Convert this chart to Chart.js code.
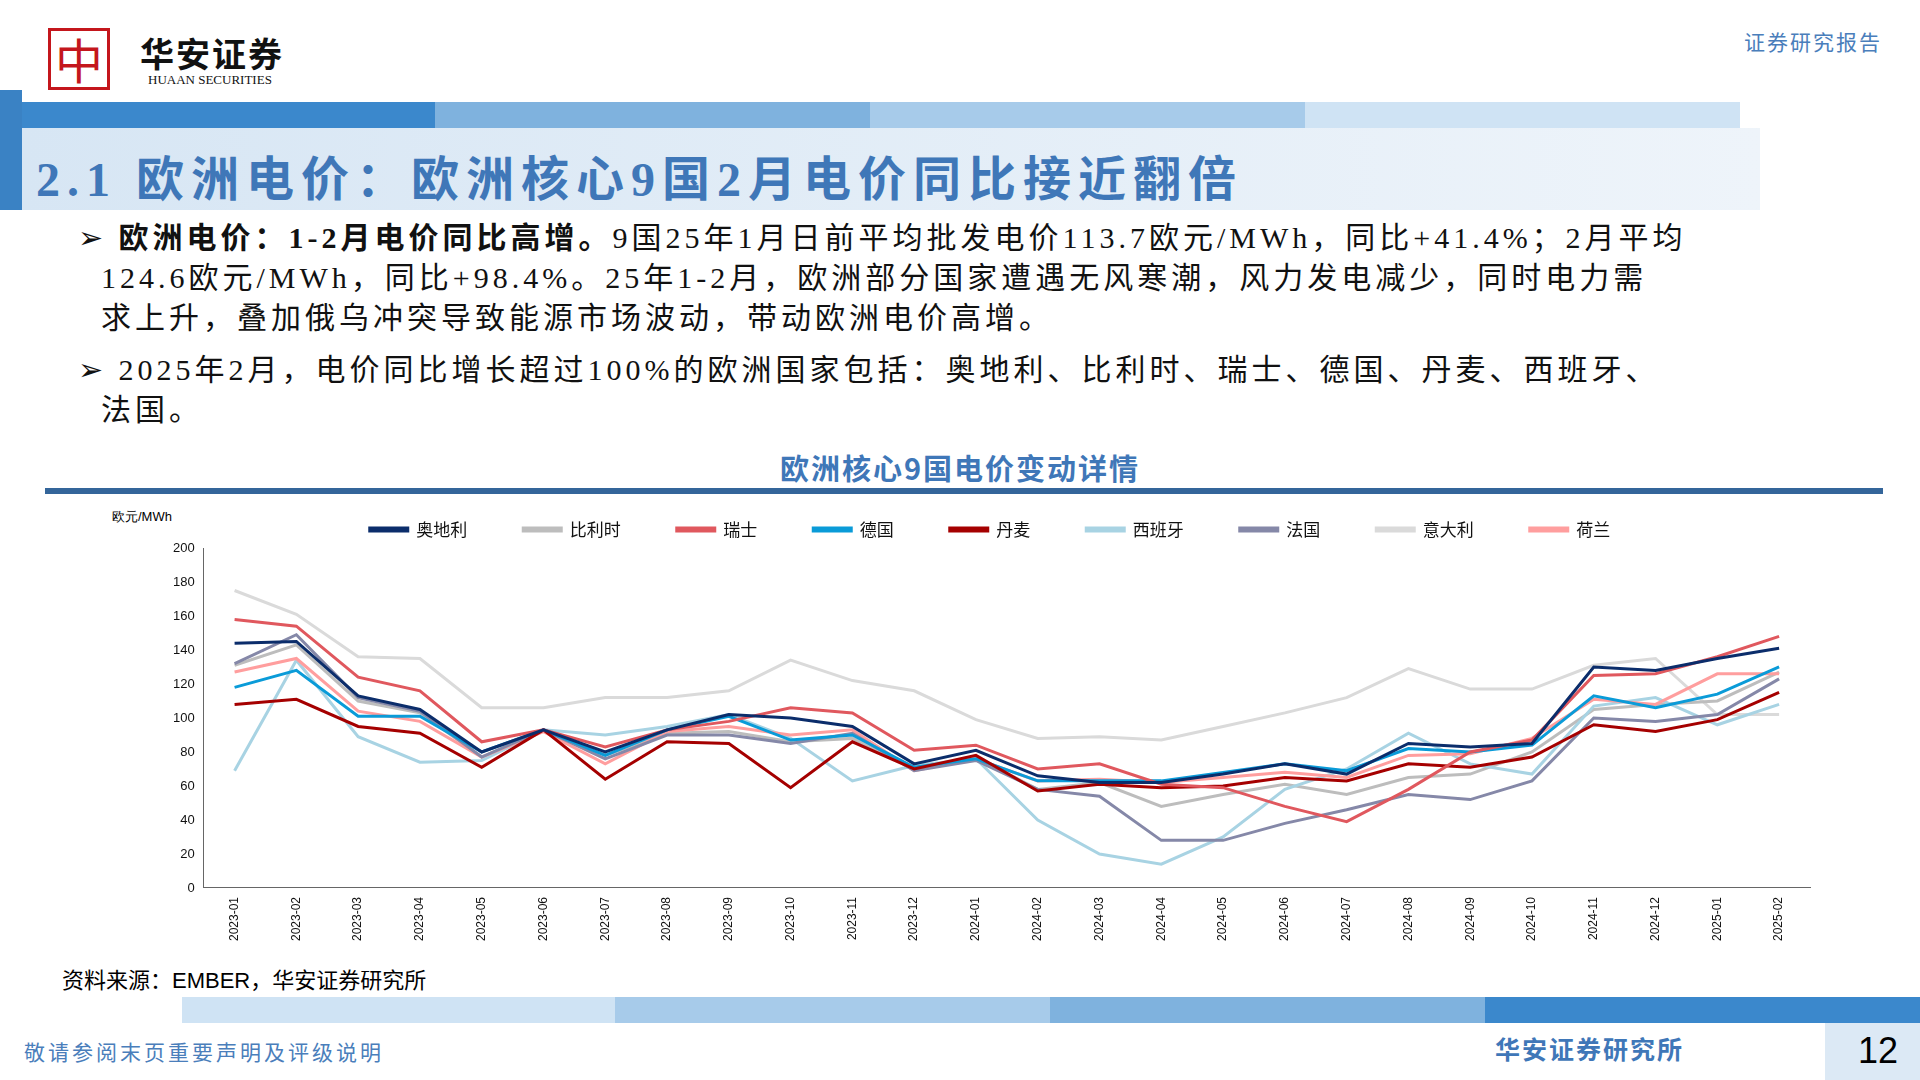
<!DOCTYPE html>
<html><head><meta charset="utf-8">
<script src="https://cdn.jsdelivr.net/npm/chart.js@4.4.1/dist/chart.umd.min.js"></script>
<style>
body{margin:0;width:1920px;height:1080px;position:relative;background:#fff;font-family:"Liberation Serif","Noto Sans CJK SC",serif;overflow:hidden}
.abs{position:absolute}
.band{position:absolute;height:26px;top:102px}
p.b{position:absolute;left:78px;margin:0;font-size:30px;line-height:40px;color:#111;width:1760px;letter-spacing:4px;white-space:nowrap}
</style></head><body>
<div class="abs" style="left:48px;top:28px;width:62px;height:62px;border:3px solid #C4161C;box-sizing:border-box;color:#C4161C;font-size:48px;line-height:54px;text-align:center;font-family:'Noto Sans CJK SC'">中</div>
<div class="abs" style="left:140px;top:28px;font-size:34px;font-family:'Noto Sans CJK SC';font-weight:bold;color:#111;letter-spacing:2px">华安证券</div>
<div class="abs" style="left:148px;top:72px;font-size:13px;color:#111">HUAAN SECURITIES</div>
<div class="abs" style="right:38px;top:26px;font-size:21px;color:#4A7EBB;font-family:'Noto Sans CJK SC';letter-spacing:2px">证券研究报告</div>
<div class="abs" style="left:0;top:90px;width:22px;height:120px;background:#3A82C4"></div>
<div class="band" style="left:22px;width:413px;background:#3B88CC"></div>
<div class="band" style="left:435px;width:435px;background:#7FB2DE"></div>
<div class="band" style="left:870px;width:435px;background:#A7CBEA"></div>
<div class="band" style="left:1305px;width:435px;background:#CFE3F4"></div>
<div class="abs" style="left:22px;top:128px;width:1738px;height:82px;background:linear-gradient(90deg,#D7E6F4,#EEF4FA)"></div>
<div class="abs" style="left:36px;top:140px;font-size:48px;color:#3F77B8;font-weight:bold;letter-spacing:7px;font-family:'Liberation Serif','Noto Sans CJK SC'">2.1 欧洲电价：欧洲核心9国2月电价同比接近翻倍</div>
<p class="b" style="top:218px">➢ <b>欧洲电价：1-2月电价同比高增。</b>9国25年1月日前平均批发电价113.7欧元/MWh，同比+41.4%；2月平均<br>&nbsp;&nbsp;124.6欧元/MWh，同比+98.4%。25年1-2月，欧洲部分国家遭遇无风寒潮，风力发电减少，同时电力需<br>&nbsp;&nbsp;求上升，叠加俄乌冲突导致能源市场波动，带动欧洲电价高增。</p>
<p class="b" style="top:350px">➢ 2025年2月，电价同比增长超过100%的欧洲国家包括：奥地利、比利时、瑞士、德国、丹麦、西班牙、<br>&nbsp;&nbsp;法国。</p>
<div class="abs" style="left:0;width:1920px;top:446px;text-align:center;font-size:29px;color:#3F77B8;font-weight:bold;letter-spacing:2px;font-family:'Noto Sans CJK SC'">欧洲核心9国电价变动详情</div>
<div class="abs" style="left:45px;top:488px;width:1838px;height:6px;background:#34659A"></div>
<div class="abs" style="left:112px;top:508px;font-size:13px;font-family:'Liberation Sans'">欧元/MWh</div>
<div class="abs" style="left:90px;top:465px;width:1740px;height:479px"><canvas id="c"></canvas></div>
<div class="abs" style="left:62px;top:962px;font-size:22px;font-family:'Liberation Sans','Noto Sans CJK SC'">资料来源：EMBER，华安证券研究所</div>
<div class="band" style="top:997px;left:182px;width:433px;background:#CFE3F4"></div>
<div class="band" style="top:997px;left:615px;width:435px;background:#A7CBEA"></div>
<div class="band" style="top:997px;left:1050px;width:435px;background:#7FB2DE"></div>
<div class="band" style="top:997px;left:1485px;width:435px;background:#3B88CC"></div>
<div class="abs" style="left:1825px;top:1023px;width:95px;height:57px;background:#DCE9F5"></div>
<div class="abs" style="left:1858px;top:1030px;font-size:36px;font-family:'Liberation Sans'">12</div>
<div class="abs" style="left:24px;top:1036px;font-size:21px;color:#4A7EBB;letter-spacing:3px;font-family:'Noto Sans CJK SC'">敬请参阅末页重要声明及评级说明</div>
<div class="abs" style="left:1495px;top:1030px;font-size:25px;color:#3F77B8;font-weight:bold;letter-spacing:2px;font-family:'Noto Sans CJK SC'">华安证券研究所</div>
<script>
const months = ['2023-01','2023-02','2023-03','2023-04','2023-05','2023-06','2023-07','2023-08','2023-09','2023-10','2023-11','2023-12','2024-01','2024-02','2024-03','2024-04','2024-05','2024-06','2024-07','2024-08','2024-09','2024-10','2024-11','2024-12','2025-01','2025-02'];
const austria = [144,145,113,105,80,93,80,93,102,100,95,73,81,66,62,62,67,73,67,85,83,85,130,128,135,141];
const belgium = [131,143,110,103,77,93,78,91,92,86,88,70,77,58,62,48,55,61,55,65,67,80,105,108,110,127];
const swiss = [158,154,124,116,86,93,83,93,98,106,103,81,84,70,73,61,59,48,39,58,80,87,125,126,136,148];
const germany = [118,128,101,101,80,93,78,93,101,87,90,71,76,63,63,63,68,73,69,82,80,84,113,106,114,130];
const denmark = [108,111,95,91,71,93,64,86,85,59,86,70,78,57,61,59,60,65,63,73,71,77,96,92,99,115];
const spain = [69,134,89,74,75,93,90,95,102,88,63,72,76,40,20,14,30,58,70,91,73,67,107,112,96,108];
const france = [132,149,112,104,77,93,76,90,90,85,91,69,75,58,54,28,28,38,46,55,52,63,100,98,102,123];
const italy = [175,161,136,135,106,106,112,112,116,134,122,116,99,88,89,87,95,103,112,129,117,117,131,135,102,102];
const netherlands = [127,135,104,98,77,92,73,92,95,90,93,69,76,63,64,62,65,68,65,78,79,88,111,108,126,126];

const series = [
  ['奥地利', austria, '#0B2D6B'], ['比利时', belgium, '#BDBDBD'], ['瑞士', swiss, '#E0585E'],
  ['德国', germany, '#0A9BD8'], ['丹麦', denmark, '#A50000'], ['西班牙', spain, '#A8D3E3'],
  ['法国', france, '#8588A8'], ['意大利', italy, '#DADADA'], ['荷兰', netherlands, '#FF9E9E']
];
// draw the light lines underneath
const order = {'意大利':9,'比利时':8,'西班牙':7,'荷兰':6,'法国':5,'德国':4,'丹麦':3,'瑞士':2,'奥地利':1};

new Chart(document.getElementById('c'), {
  type: 'line',
  data: {
    labels: months,
    datasets: series.map(([name, data, color]) => ({
      label: name, data, borderColor: color, backgroundColor: color,
      borderWidth: 3, pointRadius: 0, tension: 0, order: order[name]
    }))
  },
  options: {
    responsive: true, maintainAspectRatio: false, animation: false,
    layout: {padding: {left: 80, right: 20}},
    plugins: {
      legend: {
        labels: {
          boxWidth: 38, boxHeight: 3, padding: 56, color: '#111',
          font: {size: 17, family: "'Noto Sans CJK SC'"},
          sort: (a, b) => a.datasetIndex - b.datasetIndex
        }
      },
      tooltip: {enabled: false}
    },
    scales: {
      x: {
        offset: true,
        grid: {display: false, drawTicks: true, tickLength: 6, color: '#666'},
        border: {color: '#666'},
        ticks: {maxRotation: 90, minRotation: 90, color: '#111', font: {size: 12, family: 'Liberation Sans'}}
      },
      y: {
        min: 0, max: 200,
        grid: {display: false, drawTicks: true, tickLength: 6},
        border: {color: '#666'},
        ticks: {stepSize: 20, color: '#111', font: {size: 13, family: 'Liberation Sans'}}
      }
    }
  }
});
</script>
</body></html>
